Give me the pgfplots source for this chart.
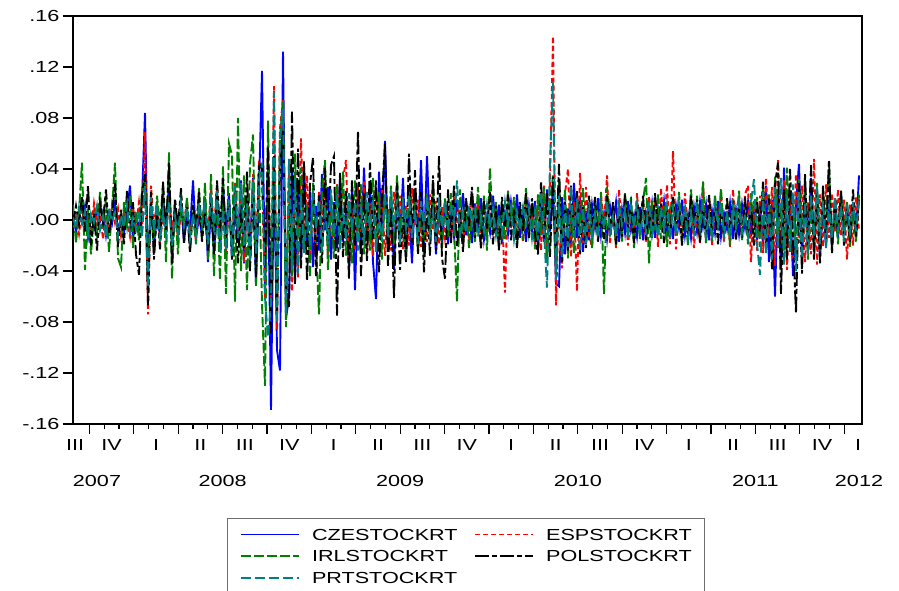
\documentclass[border=0pt]{standalone}
\usepackage{fontspec}
\setmainfont{Liberation Sans}[FakeStretch=1.35]
\usepackage{pgfplots}
\pgfplotsset{compat=1.18}
\usepackage{pgfplotstable}
\definecolor{eblue}{RGB}{0,0,255}
\definecolor{ered}{RGB}{255,0,0}
\definecolor{egreen}{RGB}{0,128,0}
\definecolor{eteal}{RGB}{0,128,128}
\definecolor{eframe}{RGB}{110,110,110}

% daily stock returns (sampled), columns: CZE ESP IRL POL PRT
\pgfplotstableread{
c e i p r
0.003 -0.006 0.012 -0.004 0.002
-0.009 0.002 -0.018 0.011 -0.006
0.004 -0.011 0.006 -0.003 0.010
-0.002 0.008 0.045 0.019 -0.003
0.011 -0.004 -0.039 -0.009 0.007
-0.014 0.001 0.009 0.027 -0.012
0.002 -0.009 -0.027 -0.020 0.005
-0.006 0.013 0.004 0.006 -0.002
0.009 -0.003 -0.012 -0.024 0.011
-0.001 0.006 0.022 0.013 -0.008
0.007 -0.015 -0.006 -0.002 0.003
-0.012 0.004 0.017 0.024 -0.014
0.005 -0.008 -0.025 -0.011 0.009
-0.003 0.012 0.008 0.003 -0.001
0.013 -0.002 0.045 0.029 0.006
-0.008 0.009 -0.030 -0.021 -0.013
0.001 -0.012 -0.037 0.008 0.004
-0.010 0.005 0.014 -0.019 -0.006
0.006 -0.001 -0.005 0.023 0.012
0.027 -0.013 0.019 -0.008 -0.010
-0.015 0.010 -0.022 0.014 0.002
0.003 -0.005 0.007 -0.027 -0.007
-0.007 0.014 -0.016 -0.043 0.008
0.016 -0.009 0.024 0.020 -0.014
0.084 0.069 0.033 0.036 0.027
-0.038 -0.074 -0.030 -0.067 -0.053
0.014 0.027 0.011 0.022 0.018
-0.021 -0.006 -0.026 -0.031 -0.009
0.005 0.015 0.019 0.008 0.013
-0.012 -0.019 -0.004 -0.023 -0.017
0.019 0.004 0.028 0.030 0.006
-0.006 -0.013 -0.033 -0.010 -0.012
0.029 0.018 0.053 0.045 0.015
-0.020 -0.009 -0.046 -0.035 -0.020
0.008 0.012 0.013 0.017 0.003
-0.003 -0.016 -0.027 -0.006 -0.011
0.014 0.006 0.021 0.025 0.014
-0.017 -0.002 -0.009 -0.019 -0.005
0.004 0.015 0.018 0.010 0.010
-0.009 -0.010 -0.023 -0.026 -0.015
0.031 0.003 0.007 0.012 0.005
-0.014 -0.017 -0.019 -0.008 -0.012
0.002 0.011 0.025 0.022 0.013
-0.011 -0.004 -0.014 -0.017 -0.003
0.016 0.018 0.029 0.006 0.015
-0.033 -0.012 -0.031 -0.024 -0.019
0.010 0.024 0.036 0.013 0.021
-0.024 -0.007 -0.044 -0.027 -0.009
0.006 0.026 0.020 0.031 0.023
-0.019 -0.022 -0.047 -0.009 -0.026
0.027 0.003 0.042 0.033 0.008
-0.008 -0.027 -0.058 -0.021 -0.024
0.021 0.014 0.060 0.017 0.016
-0.029 -0.021 0.051 -0.031 -0.028
0.012 0.030 -0.064 0.026 0.027
-0.017 -0.011 0.080 -0.034 -0.014
0.031 0.022 -0.040 0.012 0.029
-0.034 -0.033 0.035 -0.022 -0.020
0.015 0.019 -0.055 0.038 0.013
-0.026 -0.031 0.044 -0.040 -0.033
0.033 0.036 0.067 0.025 0.030
-0.050 -0.020 -0.052 -0.045 -0.027
0.024 0.042 0.038 0.045 0.031
0.117 0.031 -0.066 0.040 0.045
-0.055 -0.062 -0.130 -0.036 -0.061
0.040 0.052 0.078 0.058 -0.092
-0.149 -0.064 -0.059 -0.089 -0.066
0.048 0.105 0.061 0.050 0.100
-0.102 -0.086 -0.070 -0.076 -0.081
-0.118 0.072 0.064 0.038 0.066
0.132 0.094 0.094 0.071 0.087
-0.077 -0.070 -0.084 -0.052 -0.075
-0.061 0.044 0.030 -0.069 0.048
0.040 -0.056 -0.044 0.085 -0.039
-0.048 0.038 0.052 -0.050 0.033
0.026 -0.045 -0.026 0.056 -0.042
-0.030 0.064 0.041 -0.038 0.019
0.043 -0.017 -0.024 0.046 -0.026
-0.019 0.035 0.012 -0.048 0.008
0.022 -0.029 -0.045 0.028 -0.021
-0.037 0.014 0.029 0.049 0.024
0.011 -0.033 -0.018 -0.044 -0.007
-0.024 0.022 -0.074 0.020 0.016
0.036 -0.012 0.023 -0.034 -0.025
-0.008 0.030 0.047 0.041 0.011
0.026 -0.027 -0.039 -0.019 -0.019
-0.031 0.009 0.016 0.043 0.024
0.014 -0.021 -0.030 0.050 -0.012
-0.022 0.028 0.027 -0.075 0.020
0.033 -0.006 -0.011 0.037 -0.023
-0.017 0.032 0.038 -0.029 0.009
0.008 0.047 -0.028 0.024 -0.016
-0.039 -0.031 0.015 -0.046 0.021
0.025 0.019 -0.034 0.031 -0.008
-0.055 -0.023 0.031 -0.020 0.014
0.019 0.027 -0.009 0.070 -0.024
-0.026 -0.011 0.028 -0.044 0.012
0.041 0.030 -0.027 0.020 -0.019
-0.012 -0.026 0.010 -0.032 0.022
0.024 0.013 -0.024 0.045 -0.011
-0.033 -0.028 0.033 -0.015 0.017
-0.062 0.020 -0.018 0.031 -0.025
0.038 -0.015 0.022 -0.041 0.005
-0.010 0.025 -0.031 0.018 -0.017
0.062 -0.028 0.020 0.060 0.021
-0.021 0.009 -0.014 -0.036 -0.013
0.016 -0.024 0.027 0.013 0.023
-0.039 0.022 -0.020 -0.061 -0.009
0.028 -0.007 0.035 0.029 0.016
-0.015 0.019 -0.012 -0.039 -0.020
0.033 -0.023 0.018 0.010 0.012
-0.029 0.011 -0.030 -0.033 -0.006
0.009 -0.020 0.026 0.052 0.019
-0.034 0.025 -0.008 -0.018 -0.014
0.021 -0.004 0.016 0.039 0.008
-0.018 0.016 -0.025 -0.027 -0.019
0.047 -0.021 0.007 0.022 0.015
-0.023 0.006 -0.029 -0.041 -0.008
0.050 -0.017 0.021 0.016 0.018
-0.011 0.020 -0.013 -0.028 -0.012
0.018 -0.008 0.026 0.035 0.007
-0.027 0.015 -0.019 -0.024 -0.017
0.012 -0.019 0.010 0.050 0.013
-0.020 0.010 -0.022 -0.030 -0.006
0.015 -0.014 0.017 -0.046 0.014
-0.019 0.007 -0.013 0.024 -0.009
0.006 -0.015 0.021 -0.018 0.013
-0.013 0.018 -0.006 0.027 -0.004
0.016 -0.003 -0.064 -0.021 0.031
-0.004 0.012 0.024 0.006 -0.014
0.021 -0.018 -0.009 -0.025 0.005
-0.012 0.004 0.015 0.017 -0.010
0.007 -0.013 -0.022 -0.005 0.011
-0.018 0.020 0.003 0.026 -0.003
0.013 -0.005 -0.017 -0.014 0.008
-0.006 0.014 0.026 0.009 -0.013
0.017 -0.020 -0.008 -0.023 0.002
-0.015 0.006 0.019 0.015 -0.009
0.003 -0.011 -0.024 -0.007 0.012
-0.010 0.016 0.041 0.022 -0.006
0.019 -0.008 -0.012 -0.019 0.009
-0.007 0.012 0.014 0.011 -0.012
0.012 -0.019 -0.020 -0.024 0.004
-0.019 0.009 0.008 0.018 -0.011
0.005 -0.057 -0.015 -0.006 0.014
-0.011 0.023 0.022 0.020 -0.004
0.014 -0.007 -0.005 -0.016 0.010
-0.005 0.015 0.018 0.008 -0.015
0.020 -0.012 -0.021 -0.022 0.006
-0.014 0.004 0.011 0.014 -0.008
0.008 -0.017 -0.016 -0.009 0.012
-0.017 0.019 0.025 0.021 -0.003
0.011 -0.006 -0.010 -0.014 0.009
-0.008 0.013 0.007 0.017 -0.014
0.015 -0.020 -0.023 -0.011 0.007
-0.023 0.016 0.020 -0.027 -0.016
0.012 -0.024 -0.012 0.030 0.021
-0.017 0.027 0.026 -0.014 -0.009
0.024 -0.033 -0.031 0.021 -0.053
-0.009 0.030 0.013 -0.029 0.045
0.026 0.144 0.035 0.034 0.108
-0.050 -0.067 -0.042 -0.026 -0.047
-0.052 0.022 0.030 0.044 0.019
0.018 -0.038 -0.017 -0.033 -0.029
-0.027 0.021 0.024 0.014 0.012
0.009 0.040 -0.030 -0.024 -0.021
-0.020 -0.029 0.012 0.027 0.026
0.029 0.014 -0.026 -0.008 -0.013
-0.014 -0.056 0.020 0.023 0.017
0.019 0.037 -0.009 -0.027 -0.024
-0.025 -0.018 0.025 0.010 0.009
0.007 0.026 -0.019 -0.022 -0.018
-0.016 -0.012 0.014 0.019 0.014
0.012 -0.021 -0.023 -0.006 -0.012
-0.006 0.009 0.016 0.018 0.005
0.017 -0.014 -0.009 -0.017 -0.014
-0.012 0.020 0.022 0.005 0.011
0.005 -0.005 -0.058 -0.015 -0.007
-0.015 0.035 0.026 0.019 0.015
0.011 -0.019 -0.013 -0.008 -0.010
-0.003 0.010 0.008 0.014 0.003
0.014 -0.022 -0.020 -0.019 -0.013
-0.017 0.024 0.012 0.009 0.012
0.008 -0.008 -0.017 -0.013 -0.004
-0.010 0.015 0.021 0.020 0.009
0.015 -0.020 -0.004 -0.006 -0.015
-0.008 0.006 0.018 0.012 0.011
0.004 -0.015 -0.022 -0.018 -0.006
-0.013 0.021 0.009 0.015 0.013
0.010 -0.009 -0.015 -0.004 -0.011
-0.016 0.013 0.014 0.019 0.005
0.006 -0.018 0.033 -0.016 -0.009
-0.005 0.019 -0.034 0.008 0.014
0.013 -0.006 0.016 -0.014 -0.012
-0.014 0.014 -0.008 0.021 0.003
0.009 -0.021 0.020 -0.009 -0.013
-0.004 0.025 -0.015 0.013 0.010
0.015 -0.011 0.011 -0.018 -0.008
-0.011 0.028 -0.021 0.006 0.012
0.007 -0.019 0.006 -0.015 -0.015
-0.015 0.054 0.017 0.018 0.009
0.011 -0.023 -0.012 -0.007 -0.011
-0.006 0.012 0.022 0.014 0.013
0.016 -0.016 -0.018 -0.020 -0.004
-0.012 0.021 0.005 0.009 0.010
0.004 -0.009 -0.020 -0.012 -0.014
-0.014 0.017 0.024 0.019 0.006
0.010 -0.022 -0.010 -0.005 -0.010
-0.009 0.008 0.019 0.016 0.014
0.014 -0.018 -0.015 -0.018 -0.007
-0.005 0.030 0.030 0.010 0.011
0.012 -0.012 -0.019 -0.014 -0.013
-0.016 0.019 0.009 0.020 0.004
0.007 -0.020 -0.017 -0.009 -0.011
-0.010 0.011 0.020 0.012 0.012
0.015 -0.007 -0.008 -0.019 -0.005
-0.013 0.022 0.025 0.008 0.013
0.005 -0.018 -0.014 -0.013 -0.012
-0.007 0.014 0.013 0.017 0.007
0.013 -0.021 -0.020 -0.006 -0.014
-0.015 0.024 0.016 0.015 0.011
0.008 -0.011 -0.006 -0.016 -0.006
-0.011 0.018 0.023 0.009 0.013
0.012 -0.015 -0.016 -0.014 -0.010
-0.006 0.020 0.010 0.018 0.005
0.014 0.027 -0.019 -0.011 -0.013
-0.013 -0.033 0.021 0.012 0.014
0.009 0.015 -0.012 -0.020 0.032
-0.016 -0.024 0.018 0.014 -0.018
0.011 0.019 -0.021 -0.009 -0.043
-0.019 -0.026 0.027 0.030 0.022
0.027 0.033 -0.018 -0.024 -0.027
-0.033 -0.012 0.020 0.017 0.012
0.016 0.026 -0.029 -0.039 -0.031
-0.060 -0.036 0.034 0.028 0.026
0.023 0.047 -0.022 0.045 -0.020
-0.038 -0.020 0.013 -0.058 0.033
0.041 0.031 -0.035 0.024 -0.035
-0.022 -0.039 0.041 -0.031 0.019
0.018 0.022 -0.026 0.040 -0.024
-0.044 -0.030 0.019 -0.016 0.028
0.013 0.036 -0.030 -0.073 -0.040
0.044 -0.018 0.032 0.029 0.022
-0.031 0.027 -0.015 -0.042 -0.030
0.020 -0.033 0.025 0.036 0.014
-0.026 0.014 -0.031 -0.023 -0.027
0.033 -0.027 0.017 0.043 0.020
-0.017 0.048 -0.020 -0.031 -0.013
0.025 -0.035 0.029 0.022 0.026
-0.029 0.020 -0.024 -0.034 -0.019
0.012 -0.021 0.022 0.027 0.015
-0.021 0.028 -0.013 -0.016 -0.022
0.016 -0.014 0.046 0.047 0.013
-0.020 0.021 -0.025 -0.026 -0.015
0.009 -0.009 0.013 0.018 0.018
-0.014 0.024 -0.019 -0.010 -0.008
0.019 -0.012 0.021 0.023 0.011
-0.008 0.016 -0.011 -0.020 -0.017
0.013 -0.031 0.015 0.009 0.012
-0.018 0.012 -0.021 -0.017 -0.010
0.011 -0.020 0.010 0.024 0.014
-0.012 0.018 -0.017 -0.013 -0.009
0.035 -0.008 0.020 0.016 0.017
}\returns

\begin{document}
\begin{tikzpicture}
\begin{axis}[
  at={(0bp,0bp)}, anchor=south west,
  scale only axis, width=789bp, height=408bp,
  xmin=0, xmax=263, ymin=-0.16, ymax=0.16,
  clip mode=individual,
  axis line style={line width=1.5bp},
  tick style={black, line width=1.2bp},
  tick align=outside, tick pos=left,
  major tick length=10bp, minor tick length=5bp,
  xtick={5.47,20.27,35.07,49.87,64.67,79.47,94.27,109.07,123.87,138.67,153.47,168.27,183.07,197.87,212.67,227.47,242.27,257.07},
  minor x tick num=2,
  xticklabels={},
  ytick={-0.16,-0.12,-0.08,-0.04,0,0.04,0.08,0.12,0.16},
  yticklabels={-.16,-.12,-.08,-.04,.00,.04,.08,.12,.16},
  tick label style={font=\fontsize{16bp}{19bp}\selectfont},
  legend columns=2,
  legend image code/.code={\draw[#1, line width=1.5bp] (0bp,0bp) -- (58bp,0bp);},
  legend style={at={(0.1952,-0.2304)}, anchor=north west,
    draw=eframe, line width=1bp,
    font=\fontsize{16bp}{19bp}\selectfont,
    inner xsep=13bp, inner ysep=10bp,
    nodes={inner sep=0pt, anchor=west, text height=11.5bp, text depth=0pt},
    row sep=10.4bp, column sep=12bp,
    /tikz/every even column/.append style={column sep=17bp}},
]
\addplot[eblue, line width=1.9bp] table[x expr=\coordindex, y=c] {\returns};
\addplot[ered, line width=1.9bp, dash pattern=on 5bp off 3bp] table[x expr=\coordindex, y=e] {\returns};
\addplot[egreen, line width=1.9bp, dash pattern=on 10bp off 3bp] table[x expr=\coordindex, y=i] {\returns};
\addplot[black, line width=1.9bp, dash pattern=on 14bp off 3bp on 5bp off 3bp] table[x expr=\coordindex, y=p] {\returns};
\addplot[eteal, line width=1.9bp, dash pattern=on 10bp off 4bp] table[x expr=\coordindex, y=r] {\returns};
\legend{CZESTOCKRT,ESPSTOCKRT,IRLSTOCKRT,POLSTOCKRT,PRTSTOCKRT}
% quarter labels
\foreach \q/\t in {0.67/III,12.87/IV,27.67/I,42.47/II,57.27/III,72.07/IV,86.87/I,101.67/II,116.47/III,131.27/IV,146.07/I,160.87/II,175.67/III,190.47/IV,205.27/I,220.07/II,234.87/III,249.67/IV,261.67/I}{
  \edef\tmp{\noexpand\node[font=\noexpand\fontsize{16bp}{19bp}\noexpand\selectfont, anchor=center, yshift=-21bp] at (axis cs:\q,-0.16) {\t};}\tmp
}
% year labels
\foreach \q/\t in {8/2007,49.87/2008,109.07/2009,168.27/2010,227.47/2011,262/2012}{
  \edef\tmp{\noexpand\node[font=\noexpand\fontsize{16bp}{19bp}\noexpand\selectfont, anchor=center, yshift=-57bp] at (axis cs:\q,-0.16) {\t};}\tmp
}
\end{axis}
\pgfresetboundingbox
\path[use as bounding box] (-73bp,-167bp) rectangle (826bp,424bp);
\end{tikzpicture}
\end{document}
